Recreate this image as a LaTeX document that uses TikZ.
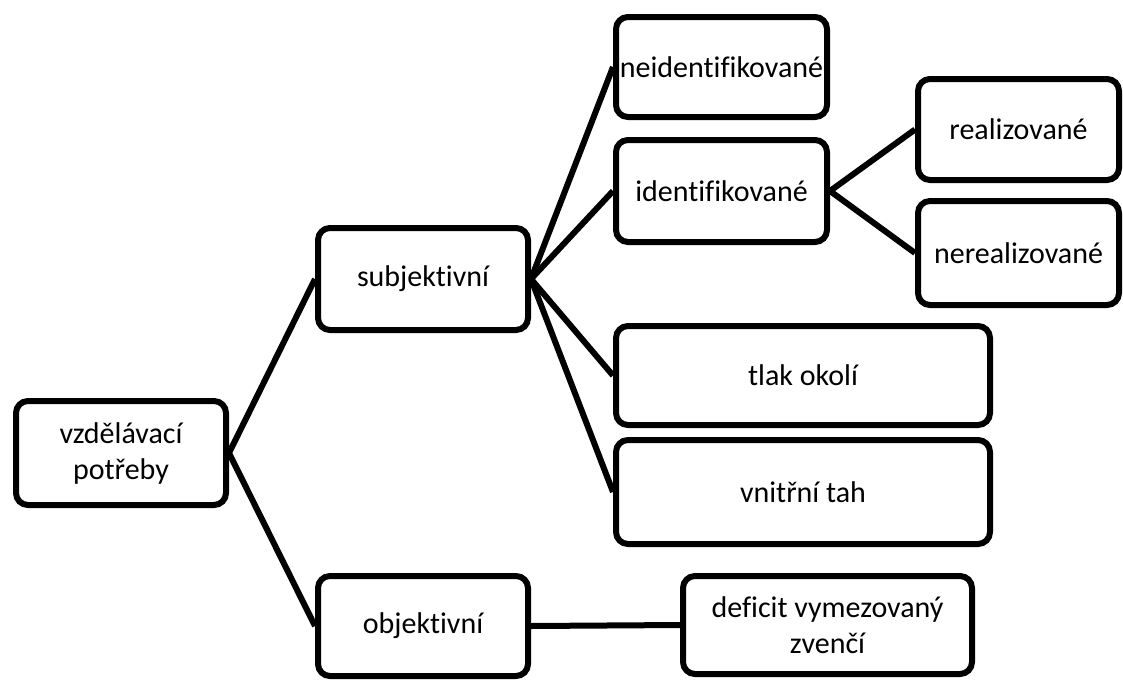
\documentclass[tikz,border=0pt]{standalone}
\usepackage{fontspec}
\setmainfont{Carlito}[Ligatures={NoCommon}]
\begin{document}
\begin{tikzpicture}[x=1pt,y=-1pt,
  box/.style={draw=black, line width=6pt, rounded corners=12pt, fill=white, inner sep=0pt,
    align=center, font=\fontsize{30}{36}\selectfont},
  link/.style={line width=6pt}]
\useasboundingbox (0,0) rectangle (1123,680);
\node[box, minimum width=210pt, minimum height=104pt] (A) at (121,453) {vzdělávací\\potřeby};
\node[box, minimum width=210pt, minimum height=102pt] (S) at (423,279) {subjektivní};
\node[box, minimum width=210pt, minimum height=100pt] (O) at (423,626) {objektivní};
\node[box, minimum width=211pt, minimum height=100pt] (N) at (721.5,67) {neidentifikované};
\node[box, minimum width=211pt, minimum height=102pt] (I) at (721.5,191) {identifikované};
\node[box, minimum width=201pt, minimum height=101pt] (R) at (1018.5,129.5) {realizované};
\node[box, minimum width=201pt, minimum height=104pt] (NR) at (1018.5,253) {nerealizované};
\node[box, minimum width=374pt, minimum height=99pt] (T) at (803,375.5) {tlak okolí};
\node[box, minimum width=374pt, minimum height=104pt] (V) at (803,492) {vnitřní tah};
\node[box, minimum width=289pt, minimum height=98pt] (D) at (827.5,625) {deficit vymezovaný\\zvenčí};
\draw[link] (A.east) -- (S.west);
\draw[link] (A.east) -- (O.west);
\draw[link] (S.east) -- (N.west);
\draw[link] (S.east) -- (I.west);
\draw[link] (S.east) -- (T.west);
\draw[link] (S.east) -- (V.west);
\draw[link] (I.east) -- (R.west);
\draw[link] (I.east) -- (NR.west);
\draw[link] (O.east) -- (D.west);
\end{tikzpicture}
\end{document}
